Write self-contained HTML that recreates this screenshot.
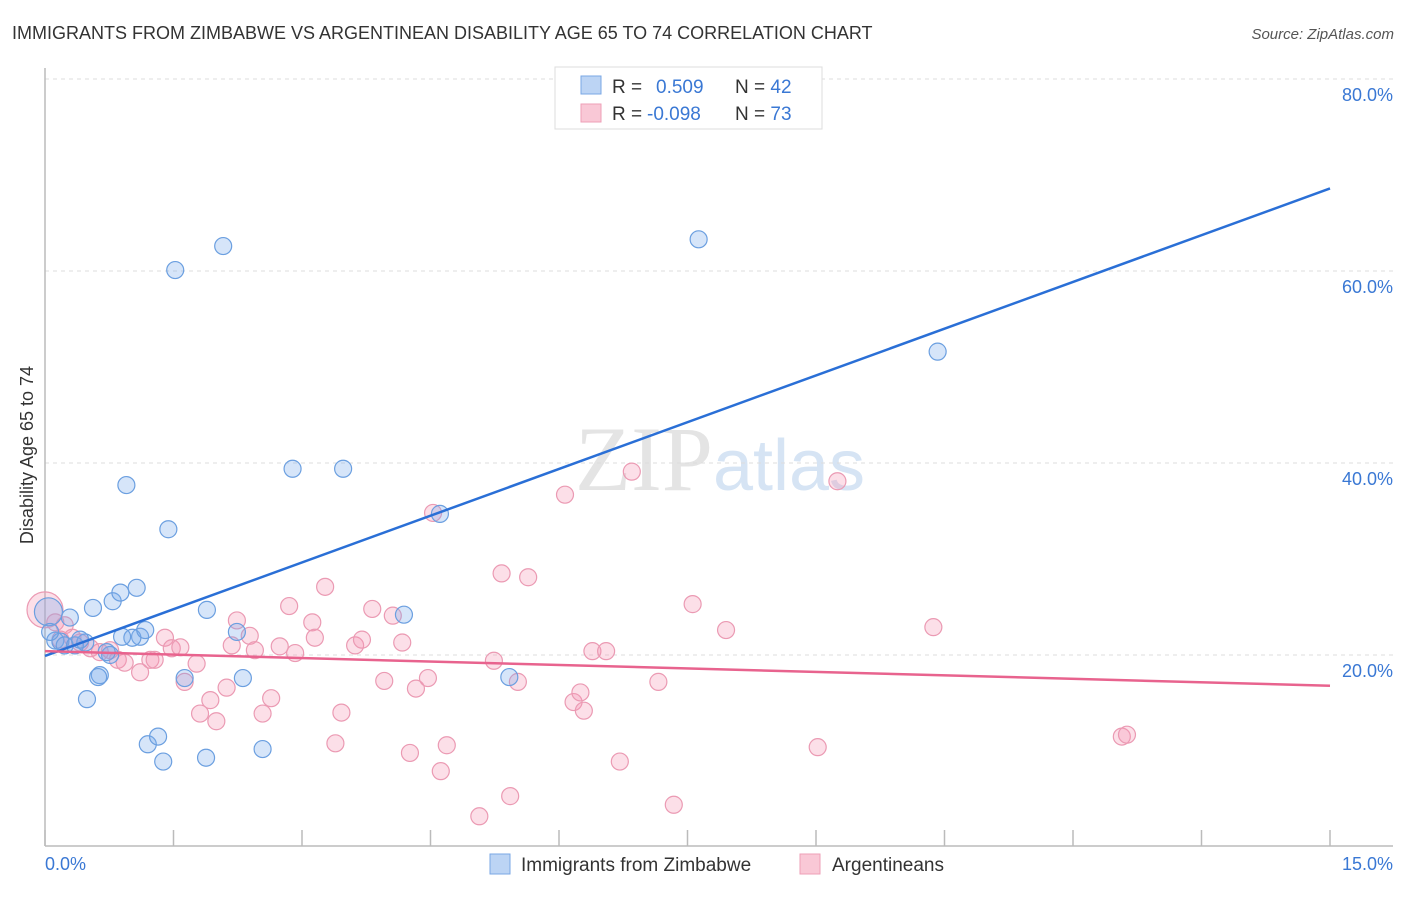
<!DOCTYPE html>
<html><head><meta charset="utf-8"><style>
body{margin:0;background:#fff;font-family:"Liberation Sans",sans-serif;}
svg text{font-family:"Liberation Sans",sans-serif;}
</style></head><body>
<svg id="c" width="1406" height="892" xmlns="http://www.w3.org/2000/svg">
<text x="12" y="39" font-size="18" fill="#333">IMMIGRANTS FROM ZIMBABWE VS ARGENTINEAN DISABILITY AGE 65 TO 74 CORRELATION CHART</text>
<text x="1394" y="39" font-size="15" fill="#555" font-style="italic" text-anchor="end">Source: ZipAtlas.com</text>
<text x="720" y="490" font-size="92" fill="#e4e4e4" text-anchor="middle" font-family="Liberation Serif"><tspan font-family="Liberation Serif">ZIP</tspan><tspan fill="#d6e4f4" font-family="Liberation Sans" font-size="72">atlas</tspan></text>
<g id="grid"></g>
<line x1="45" y1="68" x2="45" y2="846" stroke="#bbb" stroke-width="1.5"/>
<line x1="45" y1="846" x2="1393" y2="846" stroke="#bbb" stroke-width="1.5"/>
<text transform="translate(33,455) rotate(-90)" font-size="18" fill="#333" text-anchor="middle">Disability Age 65 to 74</text>
<text x="45" y="870" font-size="18" fill="#3a78d4">0.0%</text>
<text x="1393" y="870" font-size="18" fill="#3a78d4" text-anchor="end">15.0%</text>
<g id="pts"></g>
<g id="lines"></g>
<g>
<rect x="555" y="67" width="267" height="62" fill="#fff" stroke="#ddd"/>
<rect x="581" y="76" width="20" height="18" fill="#bcd4f4" stroke="#7aa7e4"/>
<rect x="581" y="104" width="20" height="18" fill="#f9c8d6" stroke="#ee9fb7"/>
<text x="612" y="93" font-size="19" fill="#333">R = <tspan fill="#3a78d4" x="656">0.509</tspan><tspan x="735" fill="#333">N = </tspan><tspan fill="#3a78d4">42</tspan></text>
<text x="612" y="120" font-size="19" fill="#333">R = <tspan fill="#3a78d4" x="647">-0.098</tspan><tspan x="735" fill="#333">N = </tspan><tspan fill="#3a78d4">73</tspan></text>
</g>
<g>
<rect x="490" y="854" width="20" height="20" fill="#bcd4f4" stroke="#7aa7e4"/>
<text x="521" y="871" font-size="19" fill="#333">Immigrants from Zimbabwe</text>
<rect x="800" y="854" width="20" height="20" fill="#f9c8d6" stroke="#ee9fb7"/>
<text x="832" y="871" font-size="19" fill="#333">Argentineans</text>
</g>
</svg>
<script>
const yTicks=[20,40,60,80];
const yTickLabels=["20.0%","40.0%","60.0%","80.0%"];
const xTicks=[0,1.5,3,4.5,6,7.5,9,10.5,12,13.5,15];
const blueX=[.04,.29,.12,.18,.23,.35,.47,.56,.79,.88,1.07,.95,1.44,1.52,2.08,1.89,2.24,1.11,1.02,1.17,.90,.76,.64,.62,.49,.72,1.63,2.31,1.20,1.32,1.38,1.88,2.54,2.89,3.48,4.61,4.19,5.42,7.63,10.42,.06,.41];
const blueY=[24.5,23.9,21.5,21.4,21.0,21.0,21.3,24.9,25.6,26.5,27.0,37.7,33.1,60.1,62.6,24.7,22.4,21.9,21.8,22.6,21.9,20.0,17.9,17.7,15.4,20.3,17.6,17.6,10.7,11.5,8.9,9.3,10.2,39.4,39.4,34.7,24.2,17.7,63.3,51.6,22.4,21.6];
const pinkX=[0,.12,.23,.18,.32,.41,.53,.64,.76,.85,.93,1.11,1.23,1.28,1.40,1.48,1.58,1.63,1.77,1.81,1.93,2.00,2.12,2.24,2.18,2.39,2.45,2.54,2.64,2.85,2.74,2.92,3.12,3.15,3.27,3.46,3.39,3.62,3.70,3.82,3.96,4.06,4.17,4.26,4.33,4.47,4.53,4.62,4.69,5.07,5.24,5.33,5.43,5.52,5.64,6.07,6.17,6.25,6.29,6.39,6.55,6.71,6.85,7.16,7.34,7.56,7.95,9.02,9.25,10.37,12.57,12.63];
const pinkY=[24.7,23.4,23.1,21.6,21.8,21.3,20.7,20.3,20.5,19.5,19.2,18.2,19.5,19.5,21.8,20.7,20.8,17.2,19.1,13.9,15.3,13.1,16.6,23.6,21.0,22.0,20.5,13.9,15.5,25.1,20.9,20.2,23.4,21.8,27.1,14.0,10.8,21.0,21.6,24.8,17.3,24.1,21.3,9.8,16.5,17.6,34.8,7.9,10.6,3.2,19.4,28.5,5.3,17.2,28.1,36.7,15.1,16.1,14.2,20.4,20.4,8.9,39.1,17.2,4.4,25.3,22.6,10.4,38.1,22.9,11.5,11.7];
const blueLine=[19.9,68.6];
const pinkLine=[20.4,16.8];
const NS="http://www.w3.org/2000/svg";
const sx=v=>45+v/15*1285;
const sy=v=>847-v/20*192;
function mk(t,a){const e=document.createElementNS(NS,t);for(const k in a)e.setAttribute(k,a[k]);return e;}
const grid=document.getElementById('grid');
yTicks.forEach((t,i)=>{
 const l=mk('line',{x1:45,x2:1393,y1:sy(t),y2:sy(t),stroke:'#ddd','stroke-dasharray':'4,4'});
 
 
 grid.appendChild(l);
 const tx=mk('text',{x:1393,y:sy(t)+22,'font-size':18,fill:'#3a78d4','text-anchor':'end'});
 tx.textContent=yTickLabels[i];
 
 
 grid.appendChild(tx);
});
xTicks.forEach(t=>{
 const l=mk('line',{x1:sx(t),x2:sx(t),y1:830,y2:846,stroke:'#bbb','stroke-width':1.5});
 
 
 grid.appendChild(l);
});
const pts=document.getElementById('pts');
pinkX.forEach((x,i)=>{
 const c=mk('circle',{cx:sx(x),cy:sy(pinkY[i]),r:i==0?18:8.5,fill:'rgba(244,150,180,0.3)',stroke:'#eb9ab3','stroke-width':1.2});
 
 
 pts.appendChild(c);
});
blueX.forEach((x,i)=>{
 const c=mk('circle',{cx:sx(x),cy:sy(blueY[i]),r:i==0?14:8.5,fill:'rgba(120,170,235,0.3)',stroke:'#6b9fe0','stroke-width':1.2});
 
 
 pts.appendChild(c);
});
const lines=document.getElementById('lines');
const bl=mk('line',{x1:sx(0),y1:sy(blueLine[0]),x2:sx(15),y2:sy(blueLine[1]),stroke:'#2a6fd6','stroke-width':2.5});


lines.appendChild(bl);
const pl=mk('line',{x1:sx(0),y1:sy(pinkLine[0]),x2:sx(15),y2:sy(pinkLine[1]),stroke:'#e8638e','stroke-width':2.5});


lines.appendChild(pl);
</script>
</body></html>
